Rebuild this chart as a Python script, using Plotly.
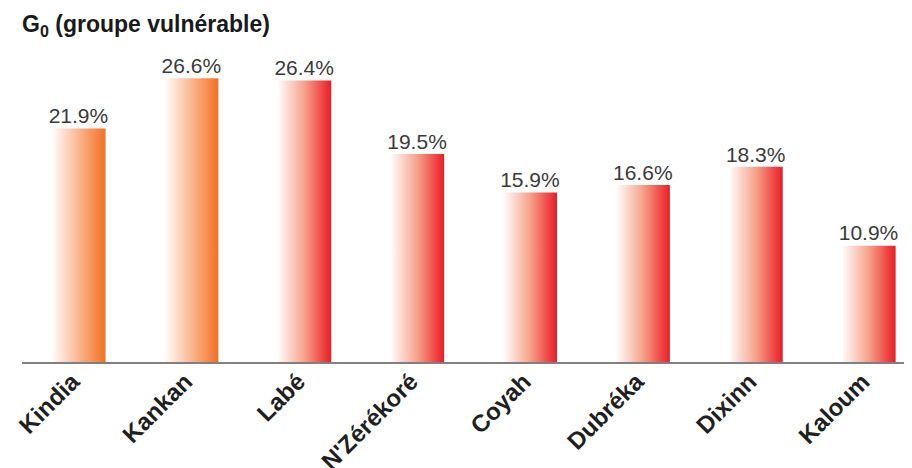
import plotly.graph_objects as go

categories = ["Kindia", "Kankan", "Labé", "N'Zérékoré", "Coyah", "Dubréka", "Dixinn", "Kaloum"]
values = [21.9, 26.6, 26.4, 19.5, 15.9, 16.6, 18.3, 10.9]
value_labels = ["21.9%", "26.6%", "26.4%", "19.5%", "15.9%", "16.6%", "18.3%", "10.9%"]

ORANGE_SCALE = [[0, "#FFFFFF"], [0.5, "#F9B790"], [1, "#F37021"]]
RED_SCALE = [[0, "#FFFFFF"], [0.5, "#F5A38B"], [1, "#EC1C24"]]
bar_scales = [ORANGE_SCALE, ORANGE_SCALE, RED_SCALE, RED_SCALE, RED_SCALE, RED_SCALE, RED_SCALE, RED_SCALE]
half_w = 0.24

fig = go.Figure()
for i, (v, cs) in enumerate(zip(values, bar_scales)):
    fig.add_trace(go.Scatter(
        x=[i - half_w, i + half_w, i + half_w, i - half_w, i - half_w],
        y=[0, 0, v, v, 0],
        mode="lines",
        line=dict(width=0),
        fill="toself",
        fillgradient=dict(type="horizontal", colorscale=cs),
        hoverinfo="skip",
        showlegend=False,
    ))

fig.add_trace(go.Scatter(
    x=list(range(len(categories))),
    y=values,
    mode="text",
    text=value_labels,
    textposition="top center",
    textfont=dict(family="Liberation Sans", size=21, color="#3a3a3a"),
    hoverinfo="skip",
    showlegend=False,
))

fig.update_layout(
    width=912, height=468,
    margin=dict(l=14, r=0, t=34, b=114, autoexpand=False),
    paper_bgcolor="white", plot_bgcolor="white",
    title=dict(text="<b>G<sub>0</sub> (groupe vulnérable)</b>",
               x=14/912, xref="container", xanchor="left",
               y=1 - 16/468, yref="container", yanchor="middle",
               font=dict(family="Liberation Sans", size=23, color="#1a1a1a")),
    xaxis=dict(range=[-0.5, 7.456], tickmode="array", automargin=False,
               tickvals=list(range(len(categories))), ticktext=categories,
               tickangle=-45, showgrid=False, zeroline=False,
               showline=True, linecolor="#808080", linewidth=2,
               ticklabelshift=-6, ticklabelstandoff=-6, ticklabeloverflow="allow",
               ticks="", tickfont=dict(family="Liberation Sans", size=24, color="#1f1f1f", weight="bold")),
    yaxis=dict(range=[0, 30], visible=False, showgrid=False, zeroline=False, automargin=False),
)

fig.write_html("out.html")
